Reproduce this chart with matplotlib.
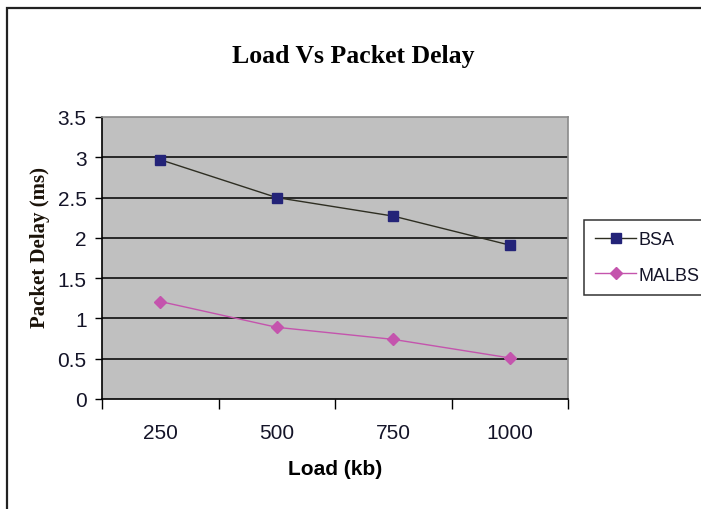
import matplotlib
matplotlib.use("Agg")
import matplotlib.pyplot as plt
from matplotlib.patches import Rectangle

categories = ["250", "500", "750", "1000"]
bsa = [2.97, 2.50, 2.27, 1.91]
malbs = [1.21, 0.89, 0.74, 0.51]
yticks = [0, 0.5, 1, 1.5, 2, 2.5, 3, 3.5]
ytick_labels = ["0", "0.5", "1", "1.5", "2", "2.5", "3", "3.5"]

SANS = ["Liberation Sans", "DejaVu Sans"]
SERIF = ["Liberation Serif", "DejaVu Serif"]

fig = plt.figure(figsize=(7.01, 5.10), dpi=100)
fig.patch.set_facecolor("white")

# outer chart frame (cropped on right and bottom)
fig.add_artist(Rectangle((7/701, -0.1), 1.2, (510-9)/510 + 0.1, transform=fig.transFigure,
                         fill=False, edgecolor="#222222", linewidth=1.6))

ax = fig.add_axes([102/701, 110/510, 466/701, 282/510])
ax.set_facecolor("#c0c0c0")

x = list(range(len(categories)))
ax.plot(x, bsa, color="#2e2e22", linewidth=1.0, marker="s", markersize=6.5,
        markerfacecolor="#232378", markeredgecolor="#232378", label="BSA", zorder=3)
ax.plot(x, malbs, color="#c454ad", linewidth=1.0, marker="D", markersize=6,
        markerfacecolor="#c454ad", markeredgecolor="#c454ad", label="MALBS", zorder=3)

ax.set_xlim(-0.5, len(categories) - 0.5)
ax.set_ylim(0, 3.5)

for v in yticks[1:-1]:
    ax.axhline(v, color="black", linewidth=1.1, zorder=1)

ax.set_yticks(yticks)
ax.set_yticklabels(ytick_labels, fontfamily=SANS, fontsize=15, color="#141428")
ax.tick_params(axis="y", direction="out", length=5, width=1, pad=6, color="black")

ax.set_xticks([i - 0.5 for i in range(len(categories) + 1)])
ax.set_xticklabels([])
ax.set_xticks(x, minor=True)
ax.set_xticklabels(categories, minor=True, fontfamily=SANS, fontsize=15, color="#141428")
ax.tick_params(axis="x", which="major", direction="out", length=7, width=1, color="black")
ax.tick_params(axis="x", which="minor", length=0, pad=17)

for s in ["top", "right"]:
    ax.spines[s].set_color("#8a8a8a")
    ax.spines[s].set_linewidth(1.2)
for s in ["left", "bottom"]:
    ax.spines[s].set_color("black")
    ax.spines[s].set_linewidth(1.2)

fig.text(353/701, 1 - 57/510, "Load Vs Packet Delay", ha="center", va="center",
         fontfamily=SERIF, fontweight="bold", fontsize=18.5)
fig.text(40/701, 1 - 248/510, "Packet Delay (ms)", ha="center", va="center", rotation=90,
         fontfamily=SERIF, fontweight="bold", fontsize=15, color="#1a1208")
fig.text(335/701, 1 - 470/510, "Load (kb)", ha="center", va="center",
         fontfamily=SANS, fontweight="bold", fontsize=15)

leg = fig.legend(loc="upper left", bbox_to_anchor=(584/701, 1 - 221/510),
                 bbox_transform=fig.transFigure, frameon=True, fancybox=False,
                 prop={"family": SANS, "size": 13}, handlelength=2.3,
                 handletextpad=0.1, borderpad=0.6, labelspacing=1.05, borderaxespad=0)
leg.get_frame().set_edgecolor("black")
leg.get_frame().set_linewidth(1.1)
for t in leg.get_texts():
    t.set_color("#141428")

fig.savefig("out.png", dpi=100)
